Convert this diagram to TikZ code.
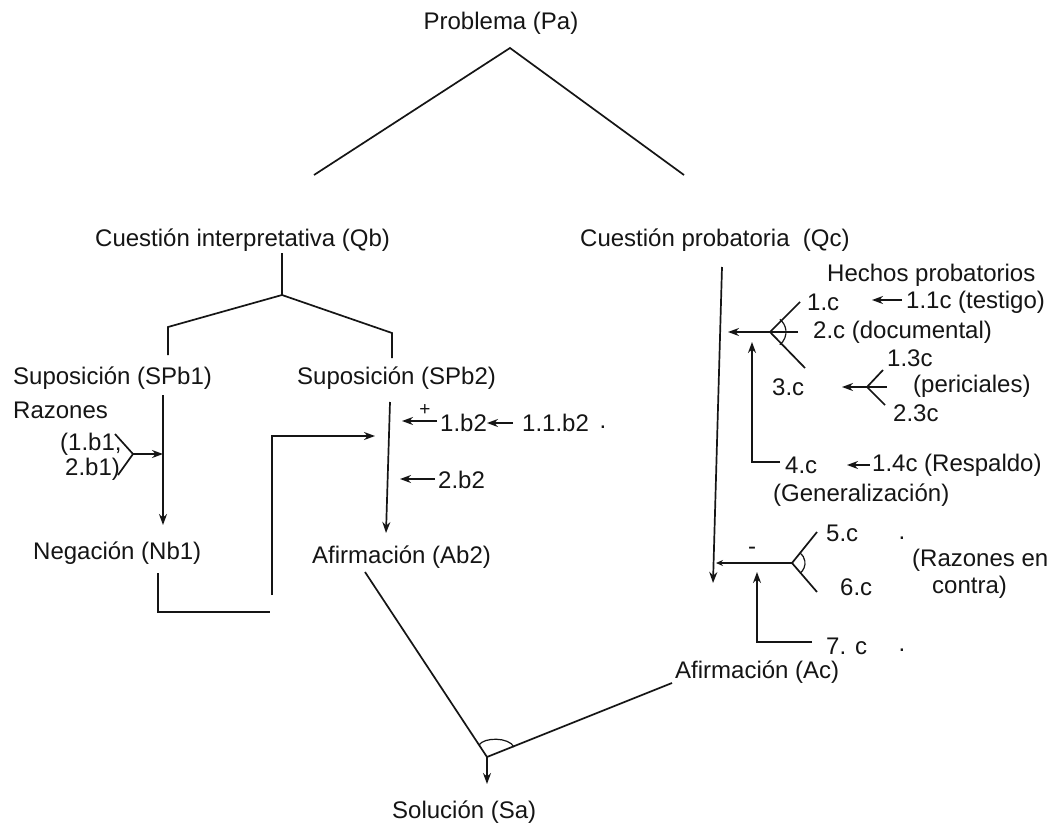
\documentclass[tikz,border=0pt]{standalone}
\usepackage{fontspec}
\setmainfont{Liberation Sans}
\usetikzlibrary{arrows.meta}
\definecolor{ink}{HTML}{151515}
\begin{document}
\begin{tikzpicture}[x=1pt,y=-1pt,
  every node/.style={inner sep=0pt, text=ink, font=\fontsize{24}{28}\selectfont},
  lbl/.style={anchor=west},
  tiny/.style={font=\fontsize{19}{21}\selectfont},
  ln/.style={line width=1.7pt, draw=ink},
  arr/.style={ln, -{Stealth[length=11pt,width=8pt]}},
  smallarr/.style={ln, -{Stealth[length=7pt,width=6pt]}},
  ]
\useasboundingbox (0,0) rectangle (1053,825);
\fill[white] (0,0) rectangle (1053,825);

% ---------- texts ----------
\node (pa) at (501,23) {Problema (Pa)};
\node[lbl] (qb) at (95,240) {Cuestión interpretativa (Qb)};
\node[lbl] (qc) at (580,240) {Cuestión probatoria\ \ (Qc)};

\node[lbl] (spb1) at (13,378) {Suposición (SPb1)};
\node[lbl] (spb2) at (297,378) {Suposición (SPb2)};
\node[lbl] (raz) at (13,410) {Razones};
\node[lbl] (b11) at (60,444) {(1.b1,};
\node[lbl] (b12) at (65,469) {2.b1)};
\node[lbl] (nb1) at (33,553) {Negación (Nb1)};
\node[lbl] (ab2) at (312,557) {Afirmación (Ab2)};
\node[tiny] (plus) at (425,410) {+};
\node[lbl] (b21) at (440,423) {1.b2};
\node[lbl] (b211) at (522,423) {1.1.b2};
\node (dot1) at (603,427) {.};
\node[lbl] (b22) at (438,480) {2.b2};
\node[lbl] (sa) at (392,812) {Solución (Sa)};

\node[lbl] (hp) at (827,275) {Hechos probatorios};
\node[lbl] (c1) at (807,302) {1.c};
\node[lbl] (c11) at (906,302) {1.1c (testigo)};
\node[lbl] (c2) at (813,332) {2.c (documental)};
\node[lbl] (c13) at (887,358) {1.3c};
\node[lbl] (c3) at (772,387) {3.c};
\node[lbl] (per) at (913,386) {(periciales)};
\node[lbl] (c23) at (893,413) {2.3c};
\node[lbl] (c4) at (785,465) {4.c};
\node[lbl] (c14) at (872,465) {1.4c (Respaldo)};
\node[lbl] (gen) at (773,495) {(Generalización)};
\node[lbl] (c5) at (826,533) {5.c};
\node (dot2) at (902,538) {.};
\node (minus) at (752,551) {-};
\node[lbl] (rc1) at (912,560) {(Razones en};
\node[lbl] (rc2) at (932,587) {contra)};
\node[lbl] (c6) at (840,587) {6.c};
\node[lbl] (c7) at (826,646) {7. c};
\node (dot3) at (902,650) {.};
\node[lbl] (ac) at (675,672) {Afirmación (Ac)};

% ---------- problem split ----------
\coordinate (apex) at (510,48);
\coordinate (pl) at (314,175);
\coordinate (pr) at (684,175);
\draw[ln] (pl) -- (apex) -- (pr);

% ---------- interpretative branch ----------
\coordinate (qbtop) at (282,253);
\coordinate (qbfork) at (282,295);
\coordinate (fl) at (168,327);
\coordinate (flb) at (168,355);
\coordinate (fr) at (392,333);
\coordinate (frb) at (392,358);
\draw[ln] (qbtop) -- (qbfork);
\draw[ln] (flb) -- (fl) -- (qbfork) -- (fr) -- (frb);

% SPb1 -> Nb1
\coordinate (s1top) at (163,395);
\coordinate (s1tip) at (163,525);
\draw[arr] (s1top) -- (s1tip);
\coordinate (rz1) at (115,434);
\coordinate (rzv) at (133,454);
\coordinate (rz2) at (118,475);
\coordinate (rztip) at (163,454);
\draw[ln] (rz1) -- (rzv) -- (rz2);
\draw[arr] (rzv) -- (rztip);

% Nb1 carried over to SPb2
\coordinate (n1a) at (158,573);
\coordinate (n1b) at (158,612);
\coordinate (n1c) at (270,612);
\draw[ln] (n1a) -- (n1b) -- (n1c);
\coordinate (n2a) at (272,595);
\coordinate (n2b) at (272,436);
\coordinate (n2c) at (375,436);
\draw[arr] (n2a) -- (n2b) -- (n2c);

% SPb2 -> Ab2
\coordinate (s2top) at (390,402);
\coordinate (s2tip) at (386,533);
\draw[arr] (s2top) -- (s2tip);
\coordinate (b21t) at (437,421);
\coordinate (b21h) at (402,421);
\draw[arr] (b21t) -- (b21h);
\coordinate (b211t) at (513,423);
\coordinate (b211h) at (487,423);
\draw[arr] (b211t) -- (b211h);
\coordinate (b22t) at (435,479);
\coordinate (b22h) at (400,479);
\draw[arr] (b22t) -- (b22h);

% ---------- joining into the solution ----------
\coordinate (ab2end) at (365,572);
\coordinate (join) at (487,757);
\coordinate (acend) at (672,683);
\coordinate (satip) at (487,784);
\draw[ln] (ab2end) -- (join) -- (acend);
\draw[ln, line width=1.2pt] (479,745) .. controls (484,737) and (509,737) .. (514,747);
\draw[arr] (join) -- (satip);

% ---------- evidential branch ----------
\coordinate (qctop) at (722,267);
\coordinate (qctip) at (713,583);
\draw[arr] (qctop) -- (qctip);

% 1.c / 2.c convergence
\coordinate (v2) at (770,332);
\coordinate (v2in) at (798,332);
\coordinate (v2tip) at (728,332);
\coordinate (v2up) at (800,302);
\coordinate (v2dn) at (805,368);
\draw[arr] (v2in) -- (v2tip);
\draw[ln] (v2up) -- (v2) -- (v2dn);
\draw[ln, line width=1.2pt] (v2) ++(52:16) arc[start angle=52, end angle=-52, radius=16];
\coordinate (c11t) at (902,300);
\coordinate (c11h) at (872,300);
\draw[arr] (c11t) -- (c11h);

% 1.3c / 2.3c -> 3.c
\coordinate (v3) at (867,387);
\coordinate (v3tip) at (842,387);
\draw[arr] (v3) -- (v3tip);
\draw[ln] (883,370) -- (v3) -- (885,405);
\draw[ln] (v3) -- (887,387);

% 4.c warrant
\coordinate (w1) at (780,462);
\coordinate (w2) at (752,462);
\coordinate (w3) at (752,342);
\draw[arr] (w1) -- (w2) -- (w3);
\coordinate (c14t) at (870,465);
\coordinate (c14h) at (847,465);
\draw[arr] (c14t) -- (c14h);

% 5.c / 6.c rebuttal
\coordinate (v5) at (792,563);
\coordinate (v5tip) at (716,563);
\draw[ln] (817,532) -- (v5) -- (817,592);
\draw[smallarr] (v5) -- (v5tip);
\draw[ln, line width=1.2pt] (v5) ++(52:13) arc[start angle=52, end angle=-52, radius=13];

% 7.c
\coordinate (r1) at (812,642);
\coordinate (r2) at (757,642);
\coordinate (r3) at (757,572);
\draw[arr] (r1) -- (r2) -- (r3);
\end{tikzpicture}
\end{document}
